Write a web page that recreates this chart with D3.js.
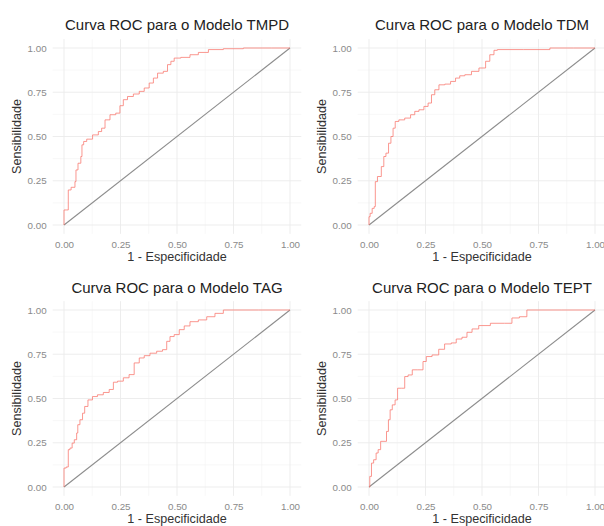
<!DOCTYPE html>
<html><head><meta charset="utf-8">
<script src="https://cdn.jsdelivr.net/npm/d3@7"></script>
<style>html,body{margin:0;padding:0;background:#fff;}</style>
</head><body>
<svg id="c" width="604" height="526"></svg>
<script>
const models = ["TMPD", "TDM", "TAG", "TEPT"];
const tickValues = [0, 0.25, 0.5, 0.75, 1];
const tickLabels = ["0.00", "0.25", "0.50", "0.75", "1.00"];
const minorValues = [0.125, 0.375, 0.625, 0.875];

const fprTMPD = [0,0,0.019,0.019,0.044,0.053,0.053,0.071,0.078,0.081,0.093,0.108,0.145,0.159,0.174,0.189,0.218,0.240,0.255,0.270,0.292,0.322,0.344,0.366,0.388,0.403,0.425,0.454,0.462,0.484,0.491,0.543,0.572,0.617,0.661,0.749,0.838,1];
const tprTMPD = [0,0.085,0.085,0.198,0.213,0.245,0.311,0.349,0.387,0.453,0.472,0.485,0.509,0.528,0.547,0.594,0.623,0.632,0.674,0.708,0.726,0.740,0.755,0.774,0.802,0.830,0.858,0.868,0.906,0.925,0.943,0.947,0.962,0.975,0.991,0.996,1,1];

const fprTDM = [0,0,0.010,0.018,0.028,0.028,0.047,0.062,0.069,0.081,0.092,0.102,0.111,0.121,0.143,0.173,0.195,0.210,0.232,0.254,0.269,0.284,0.298,0.321,0.350,0.372,0.394,0.409,0.439,0.468,0.505,0.527,0.542,0.564,0.572,0.793,0.808,1];
const tprTDM = [0,0.047,0.066,0.094,0.104,0.245,0.274,0.330,0.387,0.406,0.462,0.500,0.547,0.585,0.594,0.604,0.623,0.642,0.651,0.670,0.689,0.736,0.764,0.792,0.796,0.811,0.830,0.843,0.849,0.868,0.887,0.925,0.962,0.987,0.991,0.991,1,1];

const fprTAG = [0,0,0.019,0.019,0.034,0.038,0.053,0.059,0.063,0.078,0.086,0.097,0.115,0.137,0.159,0.189,0.211,0.226,0.248,0.277,0.299,0.322,0.344,0.366,0.395,0.425,0.447,0.462,0.476,0.499,0.521,0.543,0.572,0.617,0.646,0.690,0.720,1];
const tprTAG = [0,0.107,0.113,0.211,0.220,0.248,0.267,0.305,0.352,0.380,0.417,0.455,0.492,0.511,0.521,0.534,0.551,0.592,0.598,0.617,0.635,0.701,0.729,0.742,0.756,0.767,0.776,0.823,0.850,0.861,0.889,0.910,0.934,0.944,0.962,0.981,1,1];

const fprTEPT = [0,0.007,0.015,0.026,0.037,0.044,0.059,0.074,0.081,0.091,0.096,0.110,0.121,0.132,0.154,0.162,0.184,0.199,0.228,0.250,0.257,0.301,0.316,0.353,0.375,0.397,0.426,0.441,0.471,0.500,0.574,0.625,0.640,0.691,0.706,1];
const tprTEPT = [0,0.060,0.135,0.154,0.192,0.211,0.258,0.258,0.314,0.380,0.436,0.464,0.492,0.558,0.558,0.624,0.633,0.662,0.662,0.709,0.737,0.746,0.778,0.808,0.814,0.836,0.846,0.874,0.893,0.912,0.925,0.925,0.955,0.962,1,1];

const fprs = {TMPD: fprTMPD, TDM: fprTDM, TAG: fprTAG, TEPT: fprTEPT};
const tprs = {TMPD: tprTMPD, TDM: tprTDM, TAG: tprTAG, TEPT: tprTEPT};

const panels = [
  {x0: 64, x1: 290, y0: 225, y1: 48, yTitleX: 17, titleY: 30, xTitleY: 261},
  {x0: 369, x1: 595, y0: 225, y1: 48, yTitleX: 322, titleY: 30, xTitleY: 261},
  {x0: 64, x1: 290, y0: 487, y1: 310, yTitleX: 17, titleY: 293, xTitleY: 523},
  {x0: 369, x1: 595, y0: 487, y1: 310, yTitleX: 322, titleY: 293, xTitleY: 523}
];

const svg = d3.select("#c");
const font = "'Liberation Sans', Arial, Helvetica, sans-serif";

models.forEach((m, i) => {
  const p = panels[i];
  const x = d3.scaleLinear().domain([-0.05, 1.05]).range([p.x0 - 0.05*(p.x1-p.x0), p.x1 + 0.05*(p.x1-p.x0)]);
  const y = d3.scaleLinear().domain([-0.05, 1.05]).range([p.y0 + 0.05*(p.y0-p.y1), p.y1 - 0.05*(p.y0-p.y1)]);
  const g = svg.append("g");
  const [xl, xr] = x.range();
  const [yb, yt] = y.range();

  minorValues.forEach(v => {
    g.append("line").attr("x1", x(v)).attr("x2", x(v)).attr("y1", yb).attr("y2", yt)
      .attr("stroke", "#f3f3f3").attr("stroke-width", 0.6);
    g.append("line").attr("x1", xl).attr("x2", xr).attr("y1", y(v)).attr("y2", y(v))
      .attr("stroke", "#f3f3f3").attr("stroke-width", 0.6);
  });
  tickValues.forEach(v => {
    g.append("line").attr("x1", x(v)).attr("x2", x(v)).attr("y1", yb).attr("y2", yt)
      .attr("stroke", "#ebebeb").attr("stroke-width", 0.9);
    g.append("line").attr("x1", xl).attr("x2", xr).attr("y1", y(v)).attr("y2", y(v))
      .attr("stroke", "#ebebeb").attr("stroke-width", 0.9);
  });

  const xAxis = d3.axisBottom(x).tickValues(tickValues).tickFormat((d, k) => tickLabels[k]).tickSize(0).tickPadding(0);
  const ax = g.append("g").attr("transform", `translate(0,${yb + 7})`).call(xAxis);
  ax.select(".domain").remove();
  ax.selectAll("text").attr("font-family", font).attr("font-size", 9.8).attr("fill", "#8a8a8a").attr("dy", "0.71em");

  const yAxis = d3.axisLeft(y).tickValues(tickValues).tickFormat((d, k) => tickLabels[k]).tickSize(0).tickPadding(0);
  const ay = g.append("g").attr("transform", `translate(${xl - 6},0)`).call(yAxis);
  ay.select(".domain").remove();
  ay.selectAll("text").attr("font-family", font).attr("font-size", 9.8).attr("fill", "#8a8a8a");

  g.append("line").attr("x1", x(0)).attr("y1", y(0)).attr("x2", x(1)).attr("y2", y(1))
    .attr("stroke", "#8c8c8c").attr("stroke-width", 1.1);

  const pts = fprs[m].map((f, k) => [f, tprs[m][k]]);
  const line = d3.line().x(d => x(d[0])).y(d => y(d[1])).curve(d3.curveStep);
  g.append("path").attr("d", line(pts)).attr("fill", "none")
    .attr("stroke", "#F8766D").attr("stroke-width", 0.9).attr("stroke-opacity", 0.85);

  g.append("text").attr("x", (xl + xr) / 2).attr("y", p.titleY).attr("text-anchor", "middle")
    .attr("font-family", font).attr("font-size", 15).attr("fill", "#222")
    .text("Curva ROC para o Modelo " + m);
  g.append("text").attr("x", (xl + xr) / 2).attr("y", p.xTitleY).attr("text-anchor", "middle")
    .attr("font-family", font).attr("font-size", 12.6).attr("fill", "#333")
    .text("1 - Especificidade");
  g.append("text").attr("transform", `translate(${p.yTitleX + 4},${(yb + yt) / 2}) rotate(-90)`)
    .attr("text-anchor", "middle")
    .attr("font-family", font).attr("font-size", 12.6).attr("fill", "#333")
    .text("Sensibilidade");
});
</script>
</body></html>
